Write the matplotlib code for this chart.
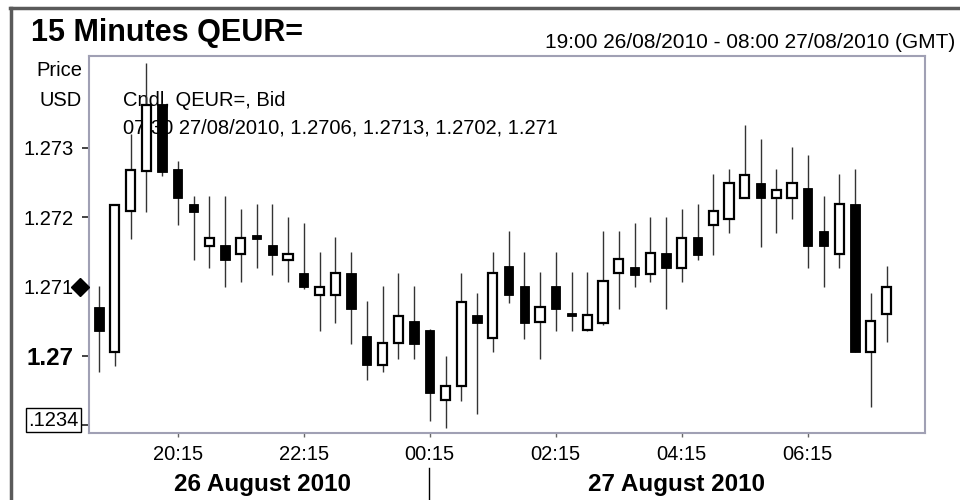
import matplotlib
matplotlib.use('Agg')
import matplotlib.pyplot as plt
import matplotlib.dates as mdates
from matplotlib.patches import Rectangle
from matplotlib.lines import Line2D
import pandas as pd

plt.rcParams['font.family'] = ['Liberation Sans', 'DejaVu Sans']

# ============================================================
# DATA - 15 minute EUR/USD bid candles
# ============================================================
times = pd.date_range('2010-08-26 19:00', '2010-08-27 07:30', freq='15min')

opens = [1.27070, 1.27006, 1.27209, 1.27267, 1.27363, 1.27269, 1.27219, 1.27159, 1.27160, 1.27147,
         1.27174, 1.27160, 1.27138, 1.27120, 1.27088, 1.27088, 1.27120, 1.27028, 1.26987, 1.27018,
         1.27050, 1.27038, 1.26937, 1.26956, 1.27059, 1.27026, 1.27129, 1.27101, 1.27049, 1.27101,
         1.27062, 1.27038, 1.27048, 1.27119, 1.27128, 1.27118, 1.27148, 1.27127, 1.27171, 1.27189,
         1.27197, 1.27228, 1.27249, 1.27228, 1.27228, 1.27242, 1.27180, 1.27147, 1.27219, 1.27006,
         1.27060]
highs = [1.27101, 1.27218, 1.27320, 1.27422, 1.27365, 1.27281, 1.27231, 1.27231, 1.27231, 1.27211,
         1.27219, 1.27219, 1.27200, 1.27191, 1.27149, 1.27171, 1.27149, 1.27079, 1.27101, 1.27120,
         1.27101, 1.27039, 1.27000, 1.27120, 1.27090, 1.27149, 1.27180, 1.27149, 1.27121, 1.27149,
         1.27121, 1.27121, 1.27180, 1.27180, 1.27191, 1.27200, 1.27200, 1.27211, 1.27219, 1.27262,
         1.27269, 1.27332, 1.27312, 1.27269, 1.27301, 1.27289, 1.27231, 1.27262, 1.27269, 1.27090,
         1.27130]
lows = [1.26977, 1.26986, 1.27168, 1.27208, 1.27259, 1.27188, 1.27138, 1.27126, 1.27099, 1.27107,
        1.27126, 1.27117, 1.27107, 1.27097, 1.27036, 1.27047, 1.27017, 1.26966, 1.26977, 1.26996,
        1.26996, 1.26907, 1.26896, 1.26935, 1.26916, 1.27006, 1.27076, 1.27025, 1.26996, 1.27036,
        1.27036, 1.27036, 1.27045, 1.27067, 1.27099, 1.27107, 1.27067, 1.27107, 1.27138, 1.27146,
        1.27177, 1.27228, 1.27157, 1.27177, 1.27197, 1.27126, 1.27099, 1.27126, 1.27006, 1.26927,
        1.27020]
closes = [1.27036, 1.27218, 1.27268, 1.27361, 1.27265, 1.27227, 1.27208, 1.27170, 1.27138, 1.27170,
          1.27168, 1.27146, 1.27147, 1.27099, 1.27100, 1.27120, 1.27067, 1.26987, 1.27019, 1.27058,
          1.27017, 1.26946, 1.26957, 1.27077, 1.27048, 1.27120, 1.27088, 1.27048, 1.27070, 1.27067,
          1.27058, 1.27059, 1.27108, 1.27139, 1.27117, 1.27148, 1.27126, 1.27170, 1.27146, 1.27209,
          1.27249, 1.27261, 1.27227, 1.27239, 1.27249, 1.27158, 1.27158, 1.27219, 1.27006, 1.27050,
          1.27100]

xtick_times = pd.date_range('2010-08-26 20:15', periods=6, freq='2h')
ytick_vals = [1.269, 1.27, 1.271, 1.272, 1.273]
ytick_labels = ['', '1.27', '1.271', '1.272', '1.273']

title = '15 Minutes QEUR='
period_text = '19:00 26/08/2010 - 08:00 27/08/2010 (GMT)'
info_lines = ['Cndl, QEUR=, Bid', '07:30 27/08/2010, 1.2706, 1.2713, 1.2702, 1.271']
day_labels = ['26 August 2010', '27 August 2010']

# ============================================================
# FIGURE
# ============================================================
W, H = 960, 500
fig = plt.figure(figsize=(W / 100, H / 100), dpi=100)


def fx(x):
    return x / W


def fy(y):
    return 1 - y / H


ax = fig.add_axes([fx(89), fy(433), (925 - 89) / W, (433 - 56) / H])

xs = mdates.date2num(times)
step = 15 / 1440
w = 0.59 * step
for x, o, h, l, c in zip(xs, opens, highs, lows, closes):
    ax.vlines(x, l, h, color='#333333', lw=1.0, zorder=2)
    if c >= o:
        ax.add_patch(Rectangle((x - w / 2, o), w, c - o, facecolor='white',
                               edgecolor='black', lw=1.6, zorder=3))
    else:
        ax.add_patch(Rectangle((x - w / 2, c), w, o - c, facecolor='black',
                               edgecolor='black', lw=0.6, zorder=3))

ax.set_xlim(xs[0] - 0.635 * step, xs[0] + 52.44 * step)
ax.set_ylim(1.26889, 1.27432)

ax.set_xticks(mdates.date2num(xtick_times))
ax.xaxis.set_major_formatter(mdates.DateFormatter('%H:%M'))
ax.tick_params(axis='x', length=3, width=1, color='#666666', pad=6, labelsize=14.5)

ax.set_yticks(ytick_vals)
ax.set_yticklabels(ytick_labels)
ax.tick_params(axis='y', length=5, width=1.2, color='#222222', pad=6, labelsize=14.5)
lab = ax.get_yticklabels()[1]
lab.set_fontweight('bold')
lab.set_fontsize(17.5)
ax.yaxis.get_major_ticks()[2].tick1line.set_visible(False)

for sp in ax.spines.values():
    sp.set_color('#a0a0b4')
    sp.set_linewidth(1.5)

# current price marker
ax.plot([-0.011], [1.271], marker='D', color='black', ms=9,
        transform=ax.get_yaxis_transform(), clip_on=False, zorder=5)

# info text (drawn under the candles)
ax.text(fx(123), fy(100), info_lines[0], transform=fig.transFigure,
        fontsize=14.5, va='center', ha='left', zorder=1)
ax.text(fx(123), fy(128), info_lines[1], transform=fig.transFigure,
        fontsize=14.5, va='center', ha='left', zorder=1)

# header texts
fig.text(fx(31), fy(33), title, fontsize=22, fontweight='bold', va='center', ha='left')
fig.text(fx(955), fy(42), period_text, fontsize=15, va='center', ha='right')
fig.text(fx(82), fy(70), 'Price', fontsize=14.5, va='center', ha='right')
fig.text(fx(82), fy(101), 'USD', fontsize=14.5, va='center', ha='right')

# boxed scale label at bottom of y axis
fig.text(fx(28), fy(420), '.1234', fontsize=14.5, va='center', ha='left',
         bbox=dict(boxstyle='square,pad=0.12', facecolor='white', edgecolor='black', lw=1))

# day labels and separator
fig.text(fx(262), fy(484), day_labels[0], fontsize=17.5, fontweight='bold', va='center', ha='center')
fig.text(fx(677), fy(484), day_labels[1], fontsize=17.5, fontweight='bold', va='center', ha='center')
fig.add_artist(Line2D([fx(429), fx(429)], [fy(468), fy(500)], color='black', lw=1))

# outer window frame
fig.add_artist(Line2D([fx(10), 1], [fy(8), fy(8)], color='#5a5a5a', lw=2.5))
fig.add_artist(Line2D([fx(11), fx(11)], [0, fy(8)], color='#5a5a5a', lw=2.5))

fig.savefig('out.png', dpi=100)
